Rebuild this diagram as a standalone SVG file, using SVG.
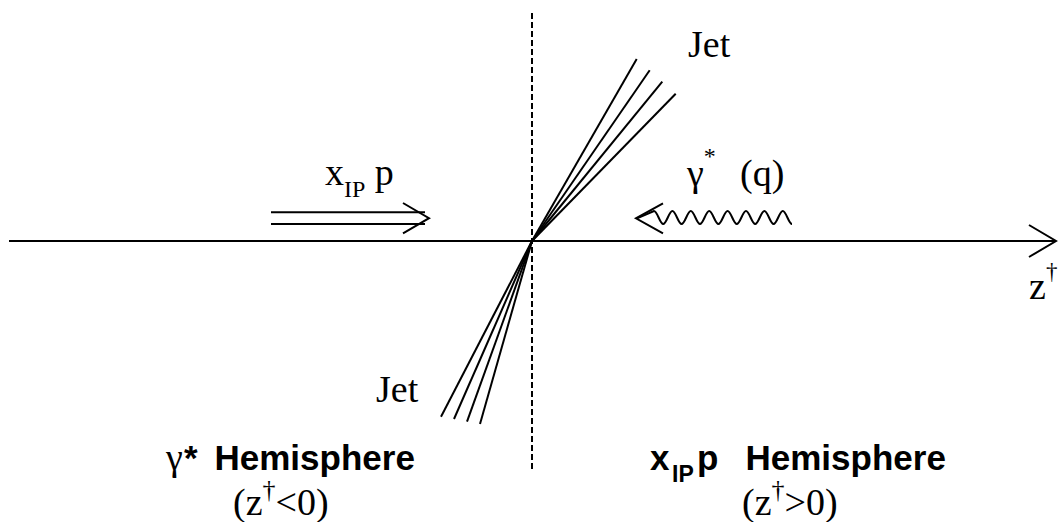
<svg xmlns="http://www.w3.org/2000/svg" width="1058" height="522" viewBox="0 0 1058 522">
<style>
.ln{stroke:#000;stroke-width:2;fill:none;stroke-linecap:butt}
.serif{font-family:"Liberation Serif","Times New Roman",serif;font-size:38px;fill:#000}
.sans{font-family:"Liberation Sans",Arial,sans-serif;font-size:35px;font-weight:bold;fill:#000}
.sub{font-size:23px}
</style>
<rect width="1058" height="522" fill="#fff"/>
<g id="connectors">
  <!-- z axis -->
  <line class="ln" x1="9" y1="241" x2="1055" y2="241"/>
  <polyline class="ln" points="1029,225 1056,241 1029,257"/>
  <!-- hemisphere divider -->
  <line class="ln" x1="532" y1="13" x2="532" y2="470" stroke-dasharray="6 3"/>
  <!-- upper jet -->
  <line class="ln" x1="532" y1="241" x2="636.7" y2="59"/>
  <line class="ln" x1="532" y1="241" x2="649.7" y2="70.3"/>
  <line class="ln" x1="532" y1="241" x2="662.3" y2="81.7"/>
  <line class="ln" x1="532" y1="241" x2="675.7" y2="93.7"/>
  <!-- lower jet -->
  <line class="ln" x1="532" y1="241" x2="441" y2="416.7"/>
  <line class="ln" x1="532" y1="241" x2="454" y2="419"/>
  <line class="ln" x1="532" y1="241" x2="467" y2="421.7"/>
  <line class="ln" x1="532" y1="241" x2="480" y2="424"/>
  <!-- x_IP p double arrow -->
  <line class="ln" x1="271" y1="212.3" x2="425" y2="212.3"/>
  <line class="ln" x1="271" y1="224" x2="425" y2="224"/>
  <polyline class="ln" points="403,203 429,218.2 403,233.3"/>
  <!-- photon -->
  <path class="ln" d="M792,224 c-3.3,0 -5.9,-13 -9.2,-13 s-5.9,13 -9.2,13 s-5.9,-13 -9.2,-13 s-5.9,13 -9.2,13 s-5.9,-13 -9.2,-13 s-5.9,13 -9.2,13 s-5.9,-13 -9.2,-13 s-5.9,13 -9.2,13 s-5.9,-13 -9.2,-13 s-5.9,13 -9.2,13 s-5.9,-13 -9.2,-13 s-5.9,13 -9.2,13 s-5.9,-13 -9.2,-13 s-5.9,13 -9.2,13 s-5.9,-13 -9.2,-13 L637,218.3"/>
  <polyline class="ln" points="663,203.3 636,218.3 663,233.3"/>
</g>
<g id="label-xip-p">
  <text class="serif" x="325" y="185">x<tspan font-size="24" dy="12">IP</tspan><tspan dy="-12"> p</tspan></text>
</g>
<g id="label-photon">
  <text class="serif" x="687" y="186">γ<tspan font-size="24" dy="-22">*</tspan></text>
  <text class="serif" x="740" y="186">(q)</text>
</g>
<g id="label-jet-top">
  <text class="serif" x="688" y="57">Jet</text>
</g>
<g id="label-jet-bottom">
  <text class="serif" x="376" y="402">Jet</text>
</g>
<g id="label-z-axis">
  <text class="serif" x="1029" y="299">z<tspan font-size="23" dy="-20.5">†</tspan></text>
</g>
<g id="label-gamma-hemisphere">
  <text class="serif" x="166" y="470">γ</text>
  <text class="sans" x="184" y="470">*</text>
  <text class="sans" x="214.5" y="470">Hemisphere</text>
  <text class="serif" x="233" y="515">(z<tspan font-size="26" dy="-17">†</tspan><tspan dy="17">&lt;0)</tspan></text>
</g>
<g id="label-xip-hemisphere">
  <text class="sans" x="650" y="470">x</text>
  <text class="sans sub" x="672" y="482">IP</text>
  <text class="sans" x="697" y="470">p</text>
  <text class="sans" x="745.5" y="470">Hemisphere</text>
  <text class="serif" x="742" y="515">(z<tspan font-size="26" dy="-17">†</tspan><tspan dy="17">&gt;0)</tspan></text>
</g>
</svg>
